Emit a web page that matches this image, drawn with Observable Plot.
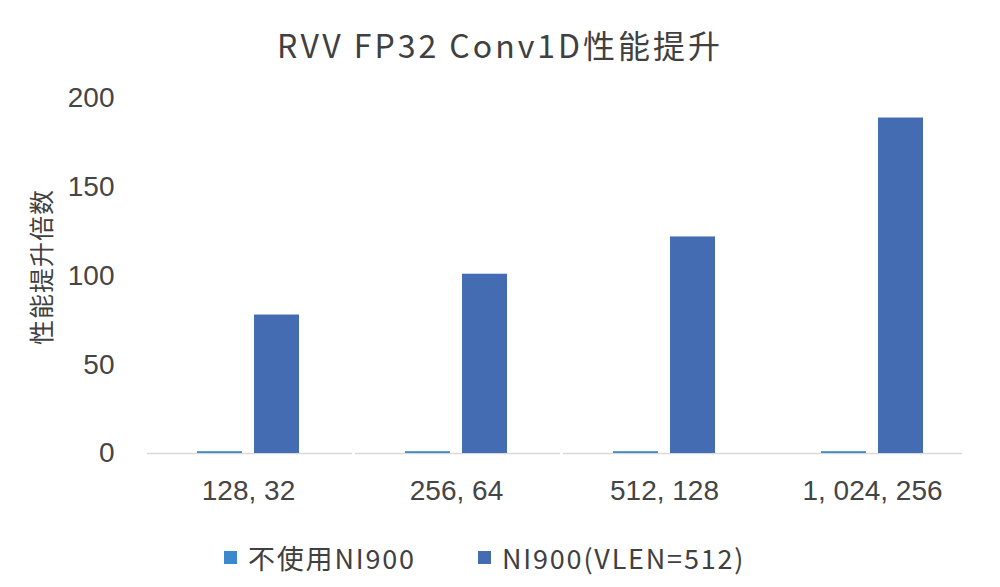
<!DOCTYPE html>
<html>
<head>
<meta charset="utf-8">
<script src="https://cdn.jsdelivr.net/npm/d3@7"></script>
<script src="https://cdn.jsdelivr.net/npm/@observablehq/plot@0.6"></script>
<style>
  html, body { margin: 0; padding: 0; background: #fff; }
  body { width: 1000px; height: 587px; overflow: hidden; position: relative; font-family: "Noto Sans CJK SC", "Noto Sans", sans-serif; }
  #title { height: 80px; line-height: 88px; text-align: center; font-size: 32px; letter-spacing: 3px; color: #404040; }
  #legend { position: relative; height: 40px; font-size: 27px; letter-spacing: 1.8px; color: #404040; }
  .sw { width: 13px; height: 13px; display: inline-block; margin-right: 11px; }
  .item { position: absolute; top: 8px; display: flex; align-items: center; }
</style>
</head>
<body>
<div id="title">RVV FP32 Conv1D性能提升</div>
<div id="chart"></div>
<div id="legend"></div>
<script>
const categories = ["128, 32", "256, 64", "512, 128", "1, 024, 256"];
const seriesNames = ["不使用NI900", "NI900(VLEN=512)"];
const withoutNI900 = [1, 1, 1, 1];
const withNI900 = [78, 101, 122, 189];
const yTicks = [0, 50, 100, 150, 200];
const colors = ["#3C88CE", "#446CB3"];

const data = [];
categories.forEach((c, i) => {
  data.push({category: c, series: seriesNames[0], value: withoutNI900[i]});
  data.push({category: c, series: seriesNames[1], value: withNI900[i]});
});
const baseFirst = categories.slice(0, 3).map(c => ({category: c, value: 0}));
const baseLast = categories.slice(3).map(c => ({category: c, value: 0}));

const latin = '"Liberation Sans", Arial, sans-serif';
const cjk = '"Noto Sans CJK SC", "Noto Sans", sans-serif';

const chart = Plot.plot({
  width: 1000,
  height: 450,
  marginLeft: 142,
  marginRight: 23,
  marginTop: 18,
  marginBottom: 77,
  style: {fontFamily: latin, fontSize: "28px", color: "#454545", background: "#fff"},
  fx: {domain: categories, padding: 0, label: null},
  x: {domain: seriesNames, paddingInner: 0.207, paddingOuter: 0.9, axis: null},
  y: {domain: [0, 200]},
  color: {domain: seriesNames, range: colors},
  marks: [
    Plot.axisFx({anchor: "bottom", tickSize: 0, tickPadding: 27, label: null, fontSize: 28}),
    Plot.axisY({ticks: yTicks, tickSize: 0, tickPadding: 30, label: null, fontSize: 28}),
    Plot.ruleY(baseFirst, {fx: "category", y: "value", stroke: "#d9d9d9", strokeWidth: 1.5, insetLeft: 3}),
    Plot.ruleY(baseLast, {fx: "category", y: "value", stroke: "#d9d9d9", strokeWidth: 1.5, insetRight: 14}),
    Plot.barY(data, {fx: "category", x: "series", y: "value", fill: "series"})
  ]
});
document.getElementById("chart").appendChild(chart);

// y-axis title
const svg = d3.select(chart);
svg.append("text")
  .attr("transform", "translate(40, 187) rotate(-90)")
  .attr("text-anchor", "middle")
  .attr("dominant-baseline", "central")
  .style("font-family", cjk)
  .style("font-size", "25px")
  .style("letter-spacing", "1px")
  .attr("fill", "#404040")
  .text("性能提升倍数");

const legend = document.getElementById("legend");
const legendLeft = [224, 478];
seriesNames.forEach((s, i) => {
  const item = document.createElement("div");
  item.className = "item";
  item.style.left = legendLeft[i] + "px";
  const sw = document.createElement("span");
  sw.className = "sw";
  sw.style.background = colors[i];
  const t = document.createElement("span");
  t.textContent = s;
  item.appendChild(sw);
  item.appendChild(t);
  legend.appendChild(item);
});
</script>
</body>
</html>
